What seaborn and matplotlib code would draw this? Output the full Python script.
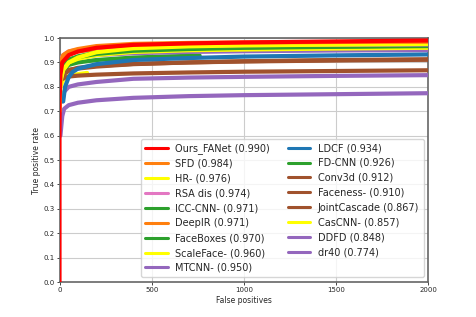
import matplotlib
matplotlib.use("Agg")
import matplotlib.pyplot as plt
import seaborn as sns

# ROC-style curves (false positives -> true positive rate)
names = ["Ours_FANet (0.990)", "SFD (0.984)", "HR- (0.976)", "RSA dis (0.974)",
         "ICC-CNN- (0.971)", "DeepIR (0.971)", "FaceBoxes (0.970)", "ScaleFace- (0.960)",
         "MTCNN- (0.950)", "LDCF (0.934)", "FD-CNN (0.926)", "Conv3d (0.912)",
         "Faceness- (0.910)", "JointCascade (0.867)", "CasCNN- (0.857)", "DDFD (0.848)",
         "dr40 (0.774)"]
colors = ["red", "#ff7f0e", "yellow", "#e377c2", "#2ca02c", "#ff7f0e", "#2ca02c", "yellow",
          "#9467bd", "#1f77b4", "#2ca02c", "#a0522d", "#a0522d", "#a0522d", "yellow",
          "#9467bd", "#9467bd"]

fp_common = [0, 5, 20, 50, 100, 200, 400, 700, 1000, 1500, 2000]

ours_fp = [0, 0, 1, 5, 15, 50, 100, 200, 400, 700, 1000, 1500, 2000]
ours_tpr = [0.0, 0.6, 0.75, 0.85, 0.9, 0.93, 0.945, 0.96, 0.972, 0.978, 0.982, 0.986, 0.99]
sfd_tpr = [0.85, 0.9, 0.93, 0.945, 0.955, 0.967, 0.976, 0.98, 0.982, 0.984, 0.985]
hr_tpr = [0.7, 0.82, 0.87, 0.9, 0.92, 0.942, 0.958, 0.966, 0.97, 0.973, 0.976]
rsa_tpr = [0.88, 0.91, 0.93, 0.945, 0.952, 0.96, 0.966, 0.969, 0.971, 0.973, 0.974]
icc_tpr = [0.8, 0.86, 0.89, 0.91, 0.925, 0.94, 0.952, 0.958, 0.962, 0.966, 0.969]
deepir_tpr = [0.82, 0.88, 0.915, 0.935, 0.945, 0.955, 0.962, 0.966, 0.968, 0.97, 0.972]
faceboxes_tpr = [0.83, 0.87, 0.895, 0.912, 0.922, 0.935, 0.948, 0.955, 0.96, 0.964, 0.967]
scaleface_tpr = [0.75, 0.83, 0.87, 0.9, 0.915, 0.93, 0.943, 0.95, 0.953, 0.957, 0.96]
mtcnn_tpr = [0.82, 0.86, 0.89, 0.91, 0.92, 0.93, 0.938, 0.943, 0.946, 0.949, 0.951]

ldcf_fp = [20, 30, 50, 70, 100, 200, 400, 700, 1000, 1500, 2000]
ldcf_tpr = [0.74, 0.8, 0.84, 0.86, 0.875, 0.893, 0.91, 0.918, 0.924, 0.929, 0.933]
fdcnn_fp = [5, 20, 50, 100, 200, 400, 600, 760]
fdcnn_tpr = [0.84, 0.87, 0.89, 0.9, 0.91, 0.92, 0.925, 0.928]
conv3d_fp = [15, 50, 100, 200, 400, 700, 1000, 1500, 2000]
conv3d_tpr = [0.86, 0.87, 0.875, 0.883, 0.893, 0.9, 0.905, 0.91, 0.913]
faceness_fp = [10, 30, 60, 100, 200, 400, 700, 1000, 1500, 2000]
faceness_tpr = [0.84, 0.855, 0.87, 0.878, 0.886, 0.894, 0.9, 0.904, 0.908, 0.911]
joint_fp = [10, 30, 60, 100, 200, 400, 700, 1000, 1500, 2000]
joint_tpr = [0.83, 0.838, 0.843, 0.846, 0.85, 0.855, 0.859, 0.862, 0.865, 0.868]
cascnn_fp = [5, 20, 50, 100, 150]
cascnn_tpr = [0.8, 0.83, 0.845, 0.852, 0.857]
ddfd_fp = [15, 25, 50, 100, 200, 400, 700, 1000, 1500, 2000]
ddfd_tpr = [0.74, 0.78, 0.8, 0.81, 0.82, 0.833, 0.838, 0.841, 0.845, 0.848]
dr40_fp = [5, 15, 25, 50, 100, 200, 400, 700, 1000, 1500, 2000]
dr40_tpr = [0.6, 0.68, 0.71, 0.725, 0.735, 0.745, 0.755, 0.762, 0.766, 0.77, 0.774]

curves = [
    (ours_fp, ours_tpr), (fp_common, sfd_tpr), (fp_common, hr_tpr), (fp_common, rsa_tpr),
    (fp_common, icc_tpr), (fp_common, deepir_tpr), (fp_common, faceboxes_tpr),
    (fp_common, scaleface_tpr), (fp_common, mtcnn_tpr), (ldcf_fp, ldcf_tpr),
    (fdcnn_fp, fdcnn_tpr), (conv3d_fp, conv3d_tpr), (faceness_fp, faceness_tpr),
    (joint_fp, joint_tpr), (cascnn_fp, cascnn_tpr), (ddfd_fp, ddfd_tpr), (dr40_fp, dr40_tpr),
]

sns.set_style("whitegrid", {"axes.edgecolor": "#666666", "grid.color": "#cccccc",
                            "xtick.bottom": True, "ytick.left": True})
fig, ax = plt.subplots(figsize=(4.76, 3.17), dpi=100)

n = len(curves)
for i, ((fp, tpr), name, col) in enumerate(zip(curves, names, colors)):
    sns.lineplot(x=fp, y=tpr, ax=ax, color=col, lw=3, label=name,
                 sort=False, estimator=None, zorder=n - i + 2)

ax.set_xlim(0, 2000)
ax.set_ylim(0, 1.0)
ax.set_xticks([0, 500, 1000, 1500, 2000])
ax.set_yticks([i / 10 for i in range(11)])
ax.tick_params(labelsize=5, length=2, width=0.6, pad=1.5)
ax.set_xlabel("False positives", fontsize=5.5, labelpad=2)
ax.set_ylabel("True positive rate", fontsize=5.5, labelpad=2)
for s in ax.spines.values():
    s.set_linewidth(1.2)
leg = ax.legend(loc="lower right", ncol=2, fontsize=7.0, labelspacing=0.5,
                handlelength=2.3, handletextpad=0.8, columnspacing=1.8, borderpad=0.45)
for h in leg.get_lines():
    h.set_linewidth(2.2)

fig.savefig("out.png", dpi=100)
